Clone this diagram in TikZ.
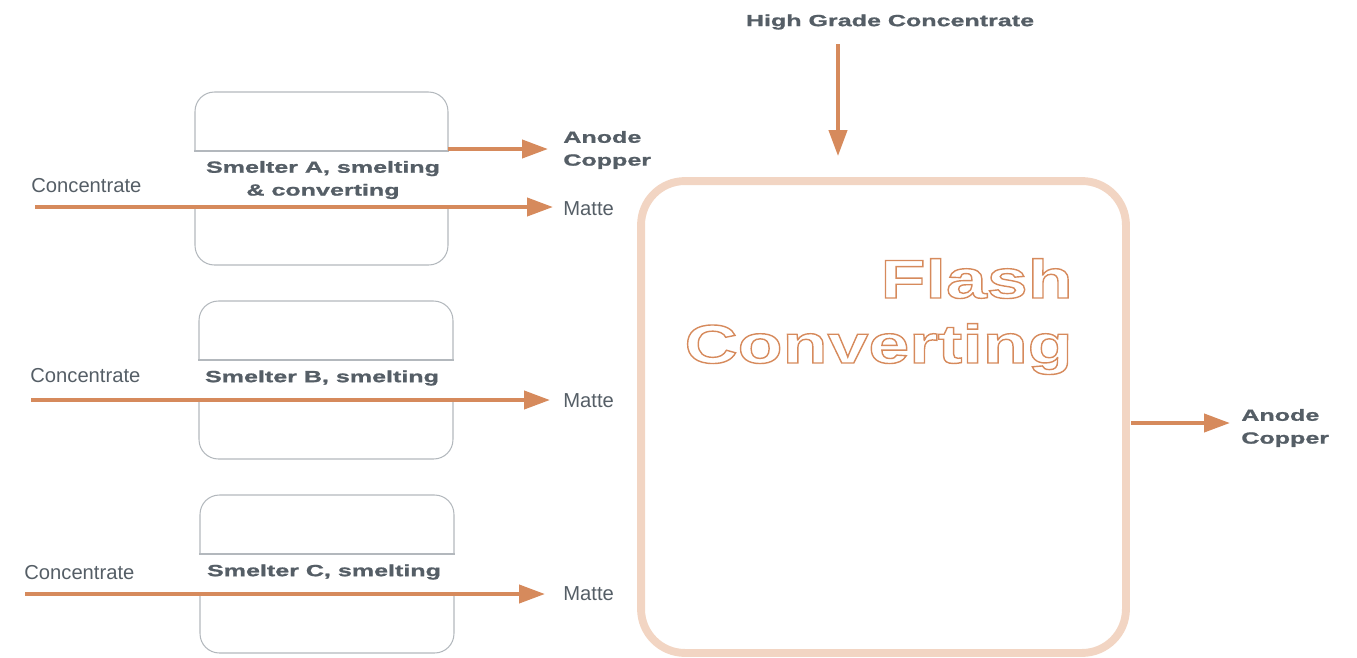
\documentclass[tikz,border=0pt]{standalone}
\usepackage{fontspec}
\usetikzlibrary{arrows.meta}
\setmainfont{Liberation Sans}
\newfontfamily\widebf[FakeStretch=1.55,FakeBold=1.2]{Liberation Sans Bold}
\newfontfamily\flashfont[FakeStretch=1.35]{Liberation Sans Bold}
\definecolor{txtgray}{HTML}{555E66}
\definecolor{flowor}{HTML}{D68A5C}
\definecolor{boxgray}{HTML}{B3B8BD}
\definecolor{peach}{HTML}{F2D5C3}
\newcommand{\outlined}[1]{\special{pdf:literal direct 1 Tr 0.8 w}#1\special{pdf:literal direct 0 Tr}}
\tikzset{
  flow/.style={line width=2.3pt, draw=flowor, -{Triangle[length=0.52cm,width=0.36cm]}},
  smelter/.style={draw=boxgray, line width=0.6pt, rounded corners=11pt, inner sep=0pt},
  plain/.style={inner sep=0pt, text=txtgray, font=\fontsize{11.5}{13}\selectfont},
  boldlabel/.style={inner sep=0pt, text=txtgray, font=\widebf\fontsize{9.2}{13}\selectfont, align=left},
}
\begin{document}
\begin{tikzpicture}[x=0.02cm, y=-0.02cm]
  \useasboundingbox (0,0) rectangle (1357,657);

  % flash converting furnace
  \node[draw=peach, line width=4.5pt, rounded corners=25pt, inner sep=0pt,
        minimum width=9.7cm, minimum height=9.44cm] (fc) at (883.5,417) {};
  \node[anchor=base east, inner sep=0pt, text=flowor, font=\flashfont\fontsize{31}{31}\selectfont]
    (fl1) at (1073,298) {\outlined{Flash}};
  \node[anchor=base east, inner sep=0pt, text=flowor, font=\flashfont\fontsize{31}{31}\selectfont]
    (fl2) at (1073,363) {\outlined{Converting}};

  % smelters
  \node[smelter, minimum width=5.06cm, minimum height=3.46cm] (smA) at (321.5,178.5) {};
  \node[smelter, minimum width=5.08cm, minimum height=3.16cm] (smB) at (326,380) {};
  \node[smelter, minimum width=5.08cm, minimum height=3.16cm] (smC) at (327,574) {};

  \fill[white] (190,151) rectangle (460,206);
  \fill[white] (190,360) rectangle (460,398);
  \fill[white] (190,554) rectangle (460,592);
  \draw[boxgray, line width=0.6pt] (smA.west |- 0,151) -- (smA.east |- 0,151);
  \draw[boxgray, line width=0.6pt] (smB.west |- 0,360) -- (smB.east |- 0,360);
  \draw[boxgray, line width=0.6pt] (smC.west |- 0,554) -- (smC.east |- 0,554);

  \node[boldlabel, align=center] (lA) at (323,180) {Smelter A, smelting\\\& converting};
  \node[boldlabel] (lB) at (322,378) {Smelter B, smelting};
  \node[boldlabel] (lC) at (324,572) {Smelter C, smelting};

  % inputs and outputs
  \node[plain, anchor=west] (cnA) at (31,186) {Concentrate};
  \node[plain, anchor=west] (cnB) at (30,376) {Concentrate};
  \node[plain, anchor=west] (cnC) at (24,573) {Concentrate};

  \node[plain, anchor=west] (mA) at (563,209) {Matte};
  \node[plain, anchor=west] (mB) at (563,401) {Matte};
  \node[plain, anchor=west] (mC) at (563,594) {Matte};

  \node[boldlabel, anchor=west] (acA) at (563,150) {Anode\\Copper};
  \node[boldlabel, anchor=west] (acF) at (1241,428) {Anode\\Copper};
  \node[boldlabel] (hg) at (890,22) {High Grade Concentrate};

  \coordinate (inA) at (35,207);
  \coordinate (inB) at (31,400);
  \coordinate (inC) at (25,594);
  \coordinate (oA) at (448,149);
  \coordinate (hgs) at (838,44);
  \coordinate (fout) at (1131,423);

  \draw[flow, shorten >=0.2cm] (inA) -- (inA -| mA.west);
  \draw[flow, shorten >=0.26cm] (inB) -- (inB -| mB.west);
  \draw[flow, shorten >=0.36cm] (inC) -- (inC -| mC.west);
  \draw[flow, shorten >=0.3cm] (oA) -- (oA -| acA.west);
  \draw[flow, shorten >=0.42cm] (hgs) -- (hgs |- fc.north);
  \draw[flow, shorten >=0.22cm] (fout) -- (fout -| acF.west);
\end{tikzpicture}
\end{document}
